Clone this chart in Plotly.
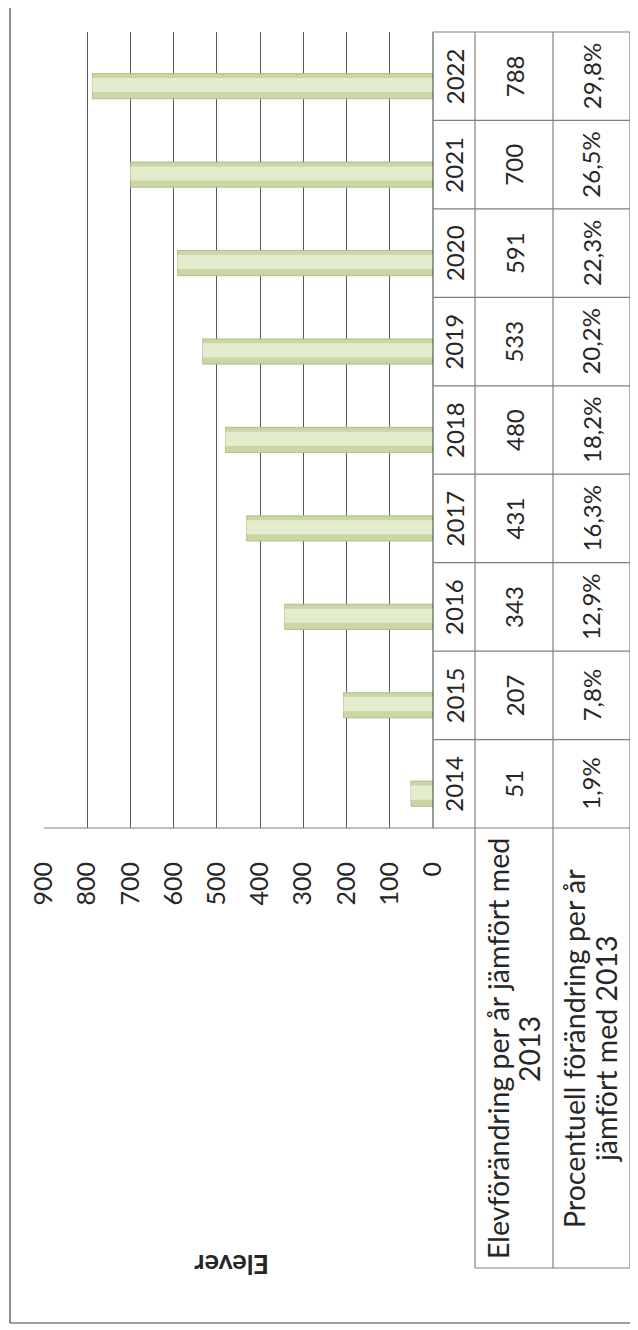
import plotly.graph_objects as go

years = ["2014", "2015", "2016", "2017", "2018", "2019", "2020", "2021", "2022"]
elev = [51, 207, 343, 431, 480, 533, 591, 700, 788]
pct = ["1,9%", "7,8%", "12,9%", "16,3%", "18,2%", "20,2%", "22,3%", "26,5%", "29,8%"]
row_labels = [["Elevförändring per år jämfört med", "2013"],
              ["Procentuell förändring per år", "jämfört med 2013"]]
axis_title = "Elever"
xticks = [0, 100, 200, 300, 400, 500, 600, 700, 800, 900]

# page offset (browser body margin) compensation
OFF = 8
SW, SH = 638, 1330
W, H = SW - OFF, SH - OFF
L, R, T, B = 44, 433, 32, 828
PW, PH = R - L, B - T


def px(xp):
    return (xp - L) / PW


def py(yp):
    return (B - yp) / PH


FONT = "Lato, 'Open Sans', sans-serif"
FS = 24
FS_HEAD = 28.5
TXT = "#262626"
GRID = "#5a5a5a"
TAB = "#808080"

fig = go.Figure()
fig.add_trace(go.Bar(
    y=years, x=elev, orientation="h",
    width=0.285, offset=-0.255,
    marker=dict(color="#cbd6a5", line=dict(color="#a9b47b", width=0.8)),
    hoverinfo="skip", showlegend=False))
fig.add_trace(go.Bar(
    y=years, x=elev, orientation="h",
    width=0.16, offset=-0.18,
    marker=dict(color="#e4ecce", line=dict(width=0)),
    hoverinfo="skip", showlegend=False))

shapes = []


def line(x0, y0, x1, y1, color=TAB, w=1.2):
    shapes.append(dict(type="line", xref="paper", yref="paper",
                       x0=px(x0), x1=px(x1), y0=py(y0), y1=py(y1),
                       line=dict(color=color, width=w)))


# value axis line (0) / table left border
line(R, T, R, B, GRID)
# category axis line
line(L, B, 630, B)
# table horizontal lines between categories
band = PH / len(years)
for k in range(len(years)):
    yy = T + k * band
    line(R, yy, 630, yy)
# vertical table lines
for xx in (475, 553, 630):
    line(xx, T, xx, 1268)
line(475, 1268, 630, 1268)
# outer chart border (left and bottom)
line(10, 0, 10, 1323, "#404040")
line(10, 1323, 645, 1323, "#404040")

ann = []
for i, (yr, v, p) in enumerate(zip(years, elev, pct)):
    for xc, t in [(454, yr), (514, str(v)), (591, p)]:
        ann.append(dict(x=px(xc), xref="paper", y=i, yref="y", text=t, textangle=-90,
                        xanchor="center", yanchor="middle",
                        showarrow=False, font=dict(family=FONT, size=FS, color=TXT)))
for lines, xcs in [(row_labels[0], (498, 529)), (row_labels[1], (574, 606))]:
    for t, xc in zip(lines, xcs):
        ann.append(dict(x=px(xc), xref="paper", y=py(1049), yref="paper", text=t, textangle=-90,
                        xanchor="center", yanchor="middle",
                        showarrow=False, font=dict(family=FONT, size=FS_HEAD, color=TXT)))
ann.append(dict(x=px(232), xref="paper", y=py(1266), yref="paper", text="<b>" + axis_title + "</b>",
                xanchor="center", yanchor="middle",
                textangle=180, showarrow=False, font=dict(family=FONT, size=27, color=TXT)))

fig.update_layout(
    width=W, height=H,
    margin=dict(l=L - OFF, r=SW - R, t=T - OFF, b=SH - B, pad=0),
    paper_bgcolor="white", plot_bgcolor="white",
    barmode="overlay",
    shapes=shapes, annotations=ann,
    xaxis=dict(range=[900, 0], tickvals=xticks, ticktext=[str(t) for t in xticks],
               showgrid=True, gridcolor=GRID, gridwidth=1.2, zeroline=False,
               showline=False, ticks="", tickangle=-90, ticklabelstandoff=28,
               tickfont=dict(family=FONT, size=FS + 1, color=TXT)),
    yaxis=dict(type="category", categoryorder="array", categoryarray=years,
               range=[-0.5, len(years) - 0.5], showgrid=False, zeroline=False,
               showticklabels=False, ticks="", showline=False),
)

fig.write_html("out.html")
